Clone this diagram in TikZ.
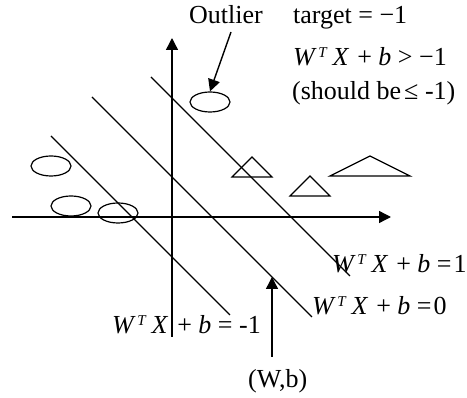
\documentclass[tikz,border=0pt]{standalone}
\usepackage{fontspec}
\setmainfont{Liberation Serif}
\usetikzlibrary{arrows.meta,shapes.geometric}
\newcommand{\wtx}{\textit{W}\hspace{1.5pt}\raisebox{8.5pt}{\fontsize{15}{15}\selectfont\textit{T}}\hspace{5pt}\textit{X}}
\begin{document}
\begin{tikzpicture}[x=1pt,y=-1pt,
  ln/.style={line width=1.2pt},
  ax/.style={line width=1.4pt,-{Triangle[length=12pt,width=12pt]}},
  blob/.style={draw,ellipse,line width=1.2pt,minimum width=40pt,minimum height=20pt,inner sep=0pt},
  tri/.style={line width=1.2pt},
  lbl/.style={inner sep=0pt,anchor=base west,font=\fontsize{26}{30}\selectfont}]
\useasboundingbox (0,0) rectangle (467,398);
% axes
\coordinate (xs) at (12,217);
\coordinate (xe) at (391,217);
\coordinate (ys) at (172,337);
\coordinate (ye) at (172,38);
\draw[ax] (xs) -- (xe);
\draw[ax] (ys) -- (ye);
% separating lines
\coordinate (a1) at (51,136);  \coordinate (a2) at (230,315);
\coordinate (b1) at (92,97);   \coordinate (b2) at (312,317);
\coordinate (c1) at (151,77);  \coordinate (c2) at (350,276);
\draw[ln] (a1) -- (a2);
\draw[ln] (b1) -- (b2);
\draw[ln] (c1) -- (c2);
% ellipses
\node[blob] (e0) at (210,102) {};
\node[blob] (e1) at (51,166) {};
\node[blob] (e2) at (71,206) {};
\node[blob] (e3) at (118,213) {};
% triangles
\draw[tri] (232,177) -- (252,157) -- (272,177) -- cycle;
\draw[tri] (290,196) -- (310,176) -- (330,196) -- cycle;
\draw[tri] (330,176) -- (370,156) -- (410,176) -- cycle;
% labels
\node[lbl] (out) at (189,24) {Outlier};
\node[lbl] (tgt) at (293,24) {target = −1};
\node[lbl] (ineq) at (293,66) {\wtx\hspace{8pt}+\ \textit{b}\ >\ −1};
\node[lbl] (should) at (292,100) {(should be\hspace{3pt}≤ -1)};
\node[lbl] (l1) at (332,273) {\wtx\hspace{8pt}+\ \textit{b}\ =\hspace{2pt}1};
\node[lbl] (l0) at (312,315) {\wtx\hspace{8pt}+\ \textit{b}\ =\hspace{2pt}0};
\node[lbl] (lm) at (112,334) {\wtx\hspace{9pt}+\ \textit{b}\ =\ -1};
\node[lbl] (wb) at (248,388) {(W,b)};
% arrows
\coordinate (outtail) at (231,32);
\coordinate (wbtip) at (272,277);
\coordinate (wbtail) at (272,357);
\draw[ax] (outtail) -- (e0.north);
\draw[ax] (wbtail) -- (wbtip);
\end{tikzpicture}
\end{document}
